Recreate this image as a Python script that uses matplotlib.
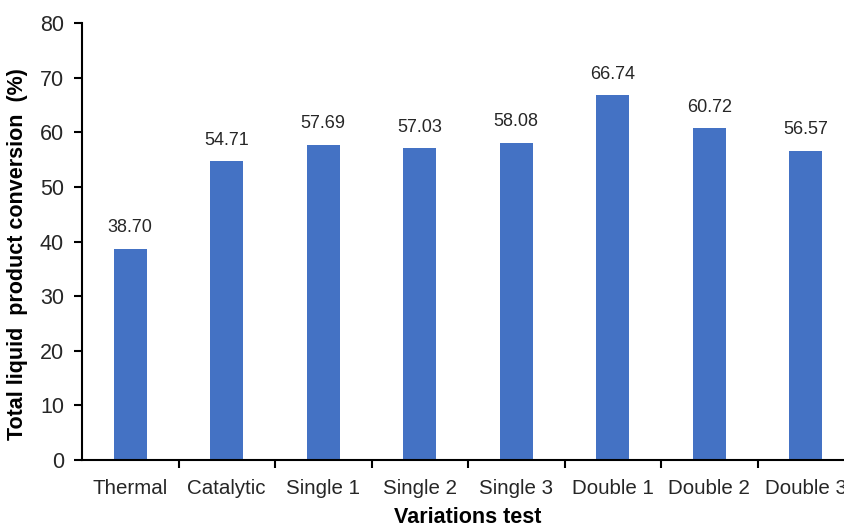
import matplotlib.pyplot as plt
from matplotlib.ticker import FixedLocator, NullFormatter

plt.rcParams['font.family'] = ['Liberation Sans', 'DejaVu Sans']

# conversion of each test run
categories = ['Thermal', 'Catalytic', 'Single 1', 'Single 2', 'Single 3',
              'Double 1', 'Double 2', 'Double 3']
conversion = [38.70, 54.71, 57.69, 57.03, 58.08, 66.74, 60.72, 56.57]
y_ticks = [0, 10, 20, 30, 40, 50, 60, 70, 80]

W, H = 845, 527
fig = plt.figure(figsize=(W / 100, H / 100), dpi=100)
ax = fig.add_axes([82 / W, (H - 460) / H, 772 / W, 437 / H])

x = list(range(len(categories)))
ax.bar(x, conversion, width=0.345, color='#4472C4')

for xi, v in zip(x, conversion):
    ax.annotate(f'{v:.2f}', (xi, v), xytext=(0, 9), textcoords='offset points',
                ha='center', va='bottom', fontsize=13, color='#262626')

ax.set_xlim(-0.5, len(categories) - 0.5)
ax.set_ylim(0, 80)
ax.set_yticks(y_ticks)

# category names centred under bars, tick marks between categories
ax.set_xticks(x)
ax.set_xticklabels(categories)
ax.xaxis.set_minor_locator(FixedLocator([i + 0.5 for i in x]))
ax.xaxis.set_minor_formatter(NullFormatter())
ax.tick_params(axis='x', which='major', length=0, pad=14, labelsize=14.8,
               labelcolor='#262626')
ax.tick_params(axis='x', which='minor', length=6, width=1.5, color='black',
               direction='out')
ax.tick_params(axis='y', length=6, width=1.5, direction='out', pad=7,
               labelsize=15.5, labelcolor='#262626')

for side in ['top', 'right']:
    ax.spines[side].set_visible(False)
for side in ['left', 'bottom']:
    ax.spines[side].set_linewidth(1.5)

ax.set_ylabel('Total liquid  product conversion  (%)', fontsize=15.5,
              fontweight='bold')
ax.set_xlabel('Variations test', fontsize=15.5, fontweight='bold')
ax.yaxis.set_label_coords(-54 / 772, (460 - 254) / 437)
ax.xaxis.set_label_coords(0.5, -47 / 437)

fig.savefig('out.png', dpi=100)
